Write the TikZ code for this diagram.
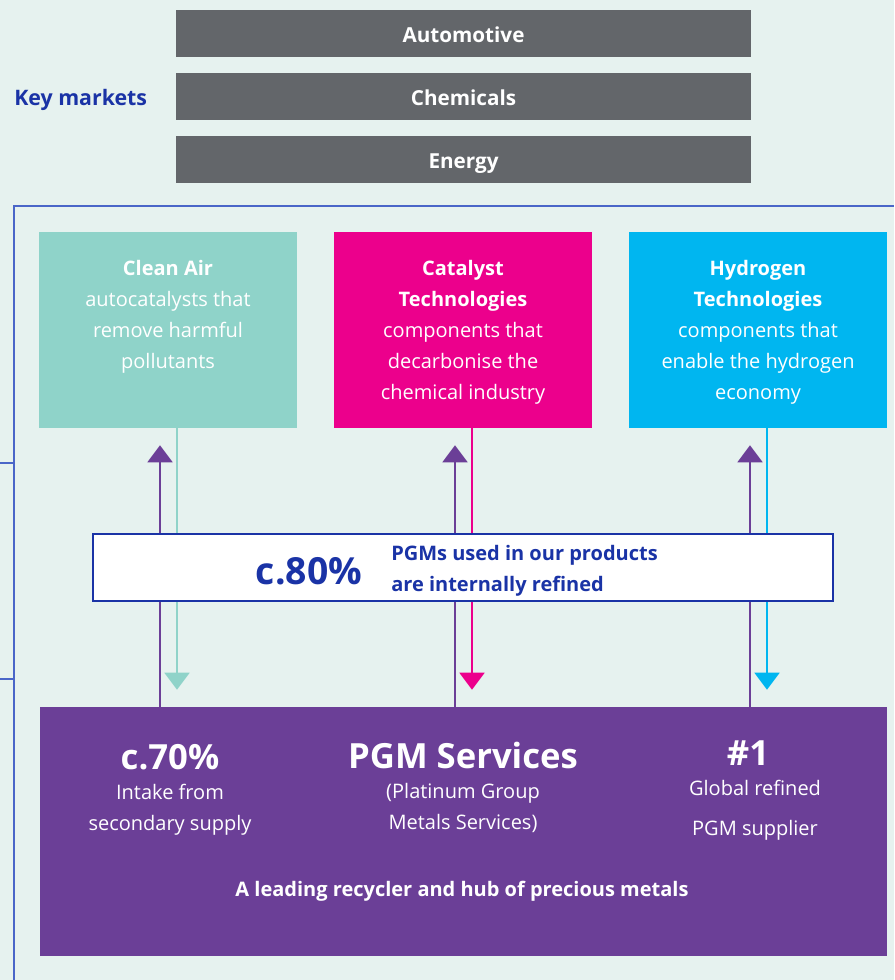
\documentclass[tikz,border=0pt]{standalone}
\usepackage{fontspec}
\setmainfont{Open Sans}
\usetikzlibrary{arrows.meta, positioning}

\definecolor{mintbg}{HTML}{E6F2EF}
\definecolor{slate}{HTML}{63666A}
\definecolor{jmblue}{HTML}{1A33A6}
\definecolor{frameblue}{HTML}{4A66C8}
\definecolor{cleanair}{HTML}{8FD3C9}
\definecolor{catalyst}{HTML}{EC008C}
\definecolor{hydrogen}{HTML}{00B6F0}
\definecolor{pgmpurple}{HTML}{6B3F97}

\tikzstyle{market} = [rectangle, minimum width=431.25pt, minimum height=35.25pt, text height=14pt, text depth=0pt, fill=slate, text=white, font=\fontsize{15.5}{18}\selectfont\bfseries]
\tikzstyle{business} = [rectangle, minimum width=193.5pt, minimum height=147pt]
\tikzstyle{blurb} = [inner sep=0pt, align=center, text=white, font=\fontsize{15}{23.25}\selectfont]
\tikzstyle{bignum} = [inner sep=0pt, text=white, font=\fontsize{26}{30}\selectfont\bfseries]
\tikzstyle{frame} = [frameblue, line width=1pt]
\tikzstyle{uparrow} = [line width=1.3pt, pgmpurple, -{Triangle[width=18.75pt,length=12.75pt]}, shorten >=12.75pt]
\tikzstyle{downarrow} = [line width=1.3pt, -{Triangle[width=18.75pt,length=12.75pt]}, shorten >=12.75pt]

\begin{document}
\begin{tikzpicture}[x=0.75pt, y=-0.75pt, node distance=47.25pt]

\fill[mintbg] (0,0) rectangle (894,980);
\useasboundingbox (0,0) rectangle (894,980);

% Key markets
\node (automotive) [market] at (463.5,33.5) {Automotive};
\node (chemicals) [market, below of=automotive] {Chemicals};
\node (energy) [market, below of=chemicals] {Energy};
\node (key_markets) [anchor=west, inner sep=0pt, text=jmblue, font=\fontsize{16}{18}\selectfont\bfseries] at (14,100) {Key markets};

% Frame
\draw [frame] (14,980) -- (14,206) -- (894,206);
\draw [frame] (0,463) -- (14,463);
\draw [frame] (0,679) -- (14,679);

% Businesses
\node (clean_air) [business, fill=cleanair] at (168,330) {};
\node (catalyst_tech) [business, fill=catalyst, right of=clean_air, node distance=221.25pt] {};
\node (hydrogen_tech) [business, fill=hydrogen, right of=catalyst_tech, node distance=221.25pt] {};

\node (clean_air_text) [blurb, below=21pt of clean_air.north] {
\textbf{Clean Air}\\
autocatalysts that\\
remove harmful\\
pollutants
};
\node (catalyst_text) [blurb, below=21pt of catalyst_tech.north] {
\textbf{Catalyst}\\
\textbf{Technologies}\\
components that\\
decarbonise the\\
chemical industry
};
\node (hydrogen_text) [blurb, below=21pt of hydrogen_tech.north] {
\textbf{Hydrogen}\\
\textbf{Technologies}\\
components that\\
enable the hydrogen\\
economy
};

% PGM Services
\node (pgm_box) [fill=pgmpurple, minimum width=635.25pt, minimum height=186.75pt] at (463.5,831.5) {};

% Connections
\draw [uparrow] ([xshift=-6pt]clean_air.south |- pgm_box.north) -- ([xshift=-6pt]clean_air.south);
\draw [downarrow, cleanair] ([xshift=6.75pt]clean_air.south) -- ([xshift=6.75pt]clean_air.south |- pgm_box.north);
\draw [uparrow] ([xshift=-6pt]catalyst_tech.south |- pgm_box.north) -- ([xshift=-6pt]catalyst_tech.south);
\draw [downarrow, catalyst] ([xshift=6.75pt]catalyst_tech.south) -- ([xshift=6.75pt]catalyst_tech.south |- pgm_box.north);
\draw [uparrow] ([xshift=-6pt]hydrogen_tech.south |- pgm_box.north) -- ([xshift=-6pt]hydrogen_tech.south);
\draw [downarrow, hydrogen] ([xshift=6.75pt]hydrogen_tech.south) -- ([xshift=6.75pt]hydrogen_tech.south |- pgm_box.north);

% Internal refining
\node (refined_box) [fill=white, draw=jmblue, line width=0.9pt, minimum width=555pt, minimum height=50.25pt] at (463,567.5) {};
\node (refined_pct) [text=jmblue, inner sep=0pt, font=\fontsize{28}{30}\selectfont\bfseries] at (309,571) {c.80\%};
\node (refined_text) [anchor=west, inner sep=0pt, align=left, text=jmblue, font=\fontsize{15}{23.25}\selectfont\bfseries] at (391,571) {
PGMs used in our products\\
are internally refined
};

% PGM Services figures
\node (intake_pct) [bignum, anchor=base] at (170,769) {c.70\%};
\node (intake_text) [blurb, anchor=north] at (170,784) {
Intake from\\
secondary supply
};
\node (pgm_title) [bignum, anchor=base] at (463,768) {PGM Services};
\node (pgm_text) [blurb, anchor=north] at (463,783) {
(Platinum Group\\
Metals Services)
};
\node (rank) [bignum, anchor=base] at (748,765) {\#1};
\node (rank_text) [blurb, anchor=north, font=\fontsize{15}{30}\selectfont] at (755,780) {
Global refined\\
PGM supplier
};
\node (pgm_tagline) [anchor=base, inner sep=0pt, text=white, font=\fontsize{15}{18}\selectfont\bfseries] at (462,896) {A leading recycler and hub of precious metals};

\end{tikzpicture}
\end{document}
